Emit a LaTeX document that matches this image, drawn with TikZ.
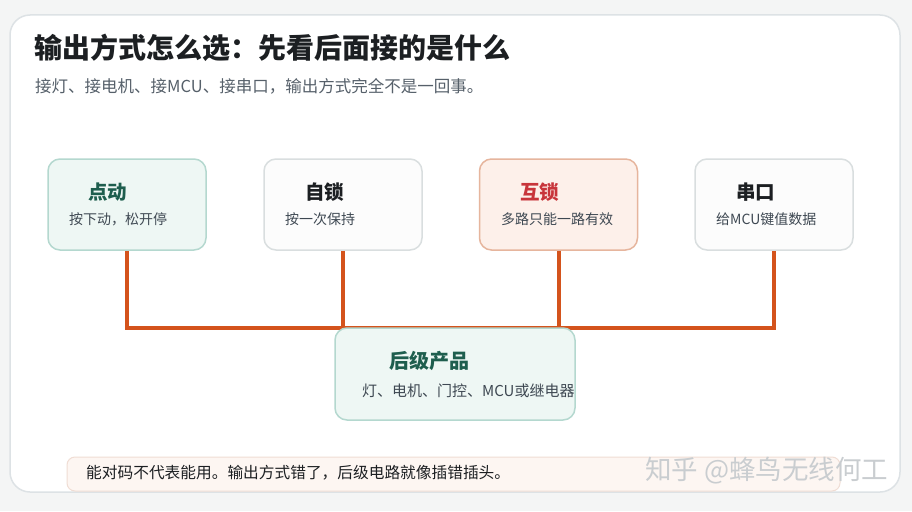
\documentclass[tikz,border=0pt]{standalone}
\usepackage{fontspec}
\setmainfont{Noto Sans CJK SC}
\usepackage{xcolor}
\usetikzlibrary{positioning}
\definecolor{mPage}{HTML}{F4F5F5}
\definecolor{mCardEdge}{HTML}{DDE2E5}
\definecolor{mInk}{HTML}{1C1F22}
\definecolor{mSubText}{HTML}{3E4852}
\definecolor{mGrayText}{HTML}{56606A}
\definecolor{mTealFill}{HTML}{EEF7F4}
\definecolor{mTealEdge}{HTML}{B4D8CF}
\definecolor{mTealText}{HTML}{1E5E4E}
\definecolor{mPlainFill}{HTML}{FCFCFC}
\definecolor{mPlainEdge}{HTML}{D9DEDF}
\definecolor{mRoseFill}{HTML}{FDF0EA}
\definecolor{mRoseEdge}{HTML}{E6B59D}
\definecolor{mRoseText}{HTML}{C8353B}
\definecolor{mWire}{HTML}{D4531C}
\definecolor{mNoteFill}{HTML}{FDF6F2}
\definecolor{mNoteEdge}{HTML}{F0DDD4}
\definecolor{mMark}{HTML}{C9CDD0}

\begin{document}
\begin{tikzpicture}[x=1pt, y=-1pt,
      card/.style={draw, rounded corners=12pt, line width=1.5pt,
                   minimum width=158pt, minimum height=91pt, inner sep=0pt},
      ttl/.style={anchor=west, inner sep=0pt,
                  font=\fontsize{19.5}{22}\selectfont\bfseries},
      sub/.style={anchor=west, inner sep=0pt, text=mSubText,
                  font=\fontsize{14}{17}\selectfont},
      wire/.style={draw=mWire, line width=4pt}
    ]
    % page and card
    \fill[mPage] (0,0) rectangle (912,511);
    \useasboundingbox (0,0) rectangle (912,511);
    \draw[mCardEdge, fill=white, line width=1.5pt, rounded corners=20pt] (10,15) rectangle (900,492);

    \node[anchor=west, inner sep=0pt, text=mInk, font=\fontsize{28}{31}\selectfont\bfseries] (head) at (34,48) {输出方式怎么选：先看后面接的是什么};
    \node[anchor=west, inner sep=0pt, text=mGrayText, font=\fontsize{16.5}{19}\selectfont] (lead) at (35,86) {接灯、接电机、接MCU、接串口，输出方式完全不是一回事。};

    % four modes
    \node[card, draw=mTealEdge, fill=mTealFill] (a) at (127,204.5) {};
    \node[card, draw=mPlainEdge, fill=mPlainFill] (b) at (343,204.5) {};
    \node[card, draw=mRoseEdge, fill=mRoseFill] (c) at (558.5,204.5) {};
    \node[card, draw=mPlainEdge, fill=mPlainFill] (d) at (774,204.5) {};

    \node[ttl, text=mTealText] (at) at (88,192) {点动};
    \node[sub] (as) at (69,219) {按下动，松开停};
    \node[ttl, text=mInk] (bt) at (305,192) {自锁};
    \node[sub] (bs) at (285,219) {按一次保持};
    \node[ttl, text=mRoseText] (ct) at (520,192) {互锁};
    \node[sub] (cs) at (501,219) {多路只能一路有效};
    \node[ttl, text=mInk] (dt) at (736,192) {串口};
    \node[sub] (ds) at (716,219) {给MCU键值数据};

    % bus
    \coordinate (ja) at (127,328);
    \coordinate (jb) at (343,328);
    \coordinate (jc) at (558.5,328);
    \coordinate (jd) at (774,328);
    \draw[wire] (a.south) -- (ja) -- (jd) -- (d.south);
    \draw[wire] (b.south) -- (jb);
    \draw[wire] (c.south) -- (jc);

    % product box
    \node[card, draw=mTealEdge, fill=mTealFill, minimum width=240pt, minimum height=92pt] (e) at (455,374) {};
    \node[ttl, text=mTealText, font=\fontsize{20}{23}\selectfont\bfseries] (et) at (389,361) {后级产品};
    \node[sub, font=\fontsize{15}{18}\selectfont] (es) at (362,391) {灯、电机、门控、MCU或继电器};

    % note
    \node[draw=mNoteEdge, fill=mNoteFill, line width=1pt, rounded corners=8pt,
          minimum width=773pt, minimum height=34pt] (note) at (453.5,474) {};
    \node[anchor=west, inner sep=0pt, text=mInk, font=\fontsize{15.7}{18}\selectfont] (notetxt) at (86,473) {能对码不代表能用。输出方式错了，后级电路就像插错插头。};

    \node[anchor=west, inner sep=0pt, text=mMark, font=\fontsize{26.5}{30}\selectfont] (mark) at (645,471) {知乎 @蜂鸟无线何工};
\end{tikzpicture}
\end{document}
